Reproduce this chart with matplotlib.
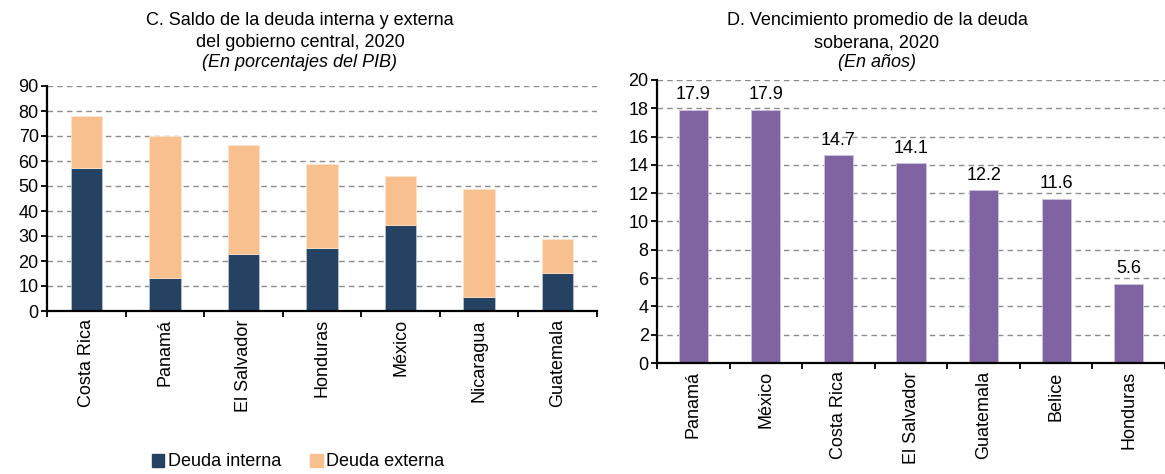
import matplotlib.pyplot as plt
import numpy as np
from matplotlib.patches import Patch

plt.rcParams['font.family'] = ['Liberation Sans', 'DejaVu Sans']
plt.rcParams['font.size'] = 13

# Panel C: saldo de la deuda (% del PIB)
paises_c = ['Costa Rica', 'Panamá', 'El Salvador', 'Honduras', 'México', 'Nicaragua', 'Guatemala']
deuda_interna = [57.1, 13.3, 22.9, 25.1, 34.5, 5.7, 15.1]
deuda_externa = [20.8, 56.6, 43.6, 33.7, 19.4, 43.1, 13.6]

# Panel D: vencimiento promedio (años)
paises_d = ['Panamá', 'México', 'Costa Rica', 'El Salvador', 'Guatemala', 'Belice', 'Honduras']
vencimiento = [17.9, 17.9, 14.7, 14.1, 12.2, 11.6, 5.6]

AZUL = '#264263'
DURAZNO = '#F9C08F'
MORADO = '#7F64A1'
FS = 13

fig = plt.figure(figsize=(11.65, 4.74), dpi=100)
ax1 = fig.add_axes([47 / 1165, 1 - 311 / 474, 550 / 1165, 225 / 474])
ax2 = fig.add_axes([657 / 1165, 1 - 363 / 474, 508 / 1165, 283 / 474])


def estilo(ax, n):
    ax.set_xlim(0, n)
    ax.set_xticks(np.arange(n + 1))
    ax.set_xticklabels([])
    ax.set_xticks(np.arange(n) + 0.5, minor=True)
    ax.tick_params(axis='x', which='minor', length=0, pad=6, labelsize=FS)
    ax.tick_params(axis='x', which='major', length=4, width=1.3, direction='out')
    ax.tick_params(axis='y', length=4, width=1.3, direction='out', pad=2, labelsize=FS)
    ax.spines['top'].set_visible(False)
    ax.spines['right'].set_visible(False)
    ax.spines['left'].set_linewidth(1.6)
    ax.spines['bottom'].set_linewidth(1.6)
    ax.yaxis.grid(True, linestyle=(0, (4, 3)), color='#8c8c8c', linewidth=1.0)
    ax.set_axisbelow(True)


def titulo(xc, lineas):
    for (texto, y, estilo_txt) in lineas:
        fig.text(xc / 1165, 1 - y / 474, texto, ha='center', va='baseline',
                 fontsize=FS, style=estilo_txt)


# --- C ---
x1 = np.arange(len(paises_c)) + 0.5
ax1.bar(x1, deuda_interna, width=0.4, color=AZUL, edgecolor='#b8c2cf', linewidth=0.6)
ax1.bar(x1, deuda_externa, width=0.4, bottom=deuda_interna, color=DURAZNO,
        edgecolor='#fde3cb', linewidth=0.6)
estilo(ax1, len(paises_c))
ax1.set_ylim(0, 90)
ax1.set_yticks(np.arange(0, 91, 10))
ax1.set_xticklabels(paises_c, minor=True, rotation=90, va='top')
ax1.legend(handles=[Patch(color=AZUL, label='Deuda interna'),
                    Patch(color=DURAZNO, label='Deuda externa')],
           loc='center', bbox_to_anchor=(298 / 1165, 1 - 462 / 474),
           bbox_transform=fig.transFigure, ncol=2, frameon=False,
           handlelength=0.7, handleheight=0.7, handletextpad=0.2,
           columnspacing=1.6, fontsize=FS, borderpad=0)

titulo(300, [('C. Saldo de la deuda interna y externa', 25, 'normal'),
             ('del gobierno central, 2020', 47, 'normal'),
             ('(En porcentajes del PIB)', 67, 'italic')])

# --- D ---
x2 = np.arange(len(paises_d)) + 0.5
ax2.bar(x2, vencimiento, width=0.4, color=MORADO, edgecolor='#cfc3e0', linewidth=0.6)
for xi, v in zip(x2, vencimiento):
    ax2.text(xi, v + 0.45, f'{v:.1f}', ha='center', va='bottom', fontsize=FS)
estilo(ax2, len(paises_d))
ax2.set_ylim(0, 20)
ax2.set_yticks(np.arange(0, 21, 2))
ax2.set_xticklabels(paises_d, minor=True, rotation=90, va='top')

titulo(877, [('D. Vencimiento promedio de la deuda', 25, 'normal'),
             ('soberana, 2020', 47, 'normal'),
             ('(En años)', 67, 'italic')])

fig.savefig('out.png', dpi=100)
